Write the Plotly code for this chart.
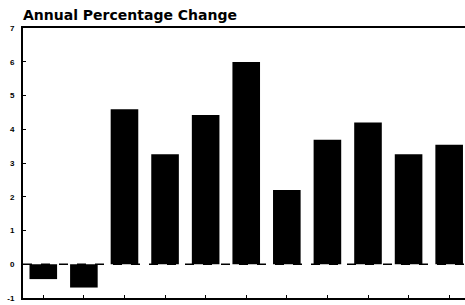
import plotly.graph_objects as go

categories = ["1", "2", "3", "4", "5", "6", "7", "8", "9", "10", "11"]
values = [-0.44, -0.69, 4.59, 3.26, 4.42, 5.99, 2.2, 3.69, 4.2, 3.26, 3.54]
y_ticks = [-1, 0, 1, 2, 3, 4, 5, 6, 7]
title_text = "Annual Percentage Change"

fig = go.Figure()
fig.add_trace(go.Bar(x=categories, y=values, marker=dict(color="black", line=dict(width=0)),
                     width=0.68))

fig.add_shape(type="line", xref="x", yref="y", x0=-0.5, x1=10.5, y0=0, y1=0,
              line=dict(color="black", width=1.5, dash="dash"), layer="below")

fig.update_layout(
    width=465, height=305,
    margin=dict(l=23, r=0, t=28, b=7),
    paper_bgcolor="white", plot_bgcolor="white",
    showlegend=False,
    title=dict(text="<b>" + title_text + "</b>", x=23 / 465, xanchor="left",
               y=1 - 15 / 305, yanchor="middle", yref="container",
               font=dict(family="DejaVu Sans", size=14, color="black")),
    xaxis=dict(type="category", range=[-0.5, 10.39], showticklabels=False,
               ticks="inside", ticklen=3, tickcolor="black", tickwidth=1,
               showline=True, linecolor="black", linewidth=1.5, mirror=True,
               showgrid=False, zeroline=False),
    yaxis=dict(range=[-1, 7], tickvals=y_ticks, ticktext=[str(v) for v in y_ticks],
               ticks="inside", ticklen=3, tickcolor="black", tickwidth=1,
               showline=True, linecolor="black", linewidth=2,
               showgrid=False, zeroline=False, ticklabelstandoff=5,
               tickfont=dict(family="Liberation Sans", size=8, color="black", weight="bold")),
)

fig.write_html("out.html", config={"displayModeBar": False},
               post_script="document.body.style.margin='0';document.body.style.padding='0';")
